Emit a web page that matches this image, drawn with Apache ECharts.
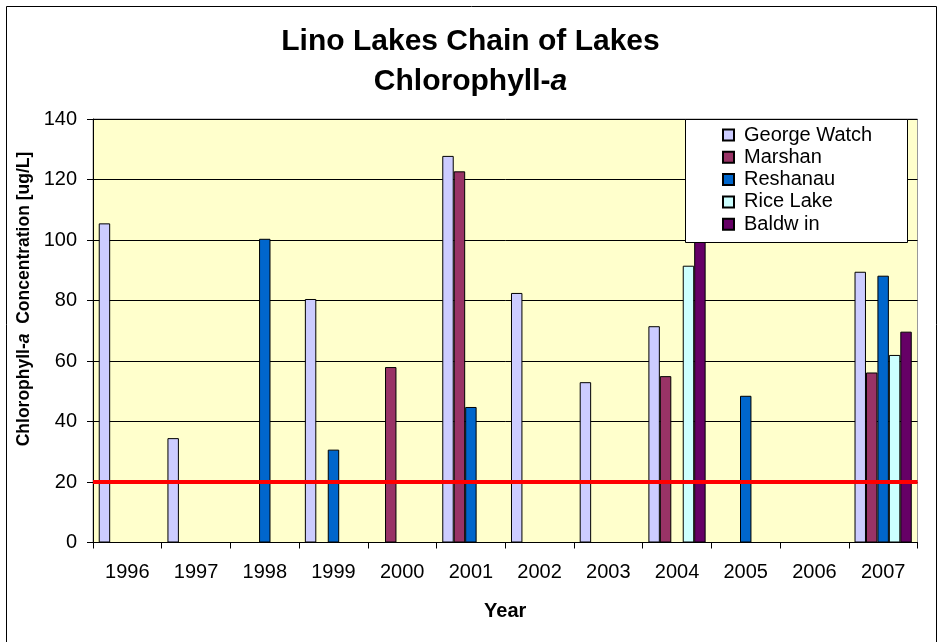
<!DOCTYPE html>
<html>
<head>
<meta charset="utf-8">
<script src="https://cdn.jsdelivr.net/npm/echarts@6/dist/echarts.min.js"></script>
<style>
    html, body { margin: 0; padding: 0; background: #fff; }
    #chart { width: 941px; height: 642px; }
</style>
</head>
<body>
<div id="chart"></div>
<script>
// 年份
let years = ['1996', '1997', '1998', '1999', '2000', '2001', '2002', '2003', '2004', '2005', '2006', '2007'];
// 各湖叶绿素a浓度 (ug/L)，null = 无数据
let georgeWatch = [105.5, 34.5, null, 80.5, null, 127.8, 82.5, 53, 71.5, null, null, 89.5];
let marshan = [null, null, null, null, 58, 122.7, null, null, 55, null, null, 56.2];
let reshanau = [null, null, 100.4, 30.7, null, 44.8, null, null, null, 48.5, null, 88.2];
let riceLake = [null, null, null, null, null, null, null, null, 91.5, null, null, 62];
let baldwin = [null, null, null, null, null, null, null, null, 102, null, null, 69.7];
// 标准线
let standard = 20;
// 纵轴刻度
let yMin = 0, yMax = 140, yStep = 20;

let seriesNames = ['George Watch', 'Marshan', 'Reshanau', 'Rice Lake', 'Baldw in'];
let seriesColors = ['#CCCCFF', '#993366', '#0066CC', '#CCFFFF', '#660066'];
let seriesData = [georgeWatch, marshan, reshanau, riceLake, baldwin];

let font = 'Arial, "Liberation Sans", sans-serif';

let series = [];
for (let i = 0; i < seriesNames.length; i++) {
    series.push({
        name: seriesNames[i],
        type: 'bar',
        data: seriesData[i],
        barGap: '0%',
        barCategoryGap: '16.7%',
        itemStyle: {
            color: seriesColors[i],
            borderColor: '#000',
            borderWidth: 1
        }
    });
}
// 红色标准线
series.push({
    name: 'standard',
    type: 'line',
    data: [],
    z: 5,
    markLine: {
        silent: true,
        symbol: 'none',
        label: { show: false },
        lineStyle: { color: '#FF0000', width: 4, type: 'solid' },
        data: [{ yAxis: standard }]
    }
});

let option = {
    backgroundColor: '#fff',
    animation: false,
    textStyle: { fontFamily: font },
    title: {
        left: 'center',
        top: 17,
        text: '{t|Lino Lakes Chain of Lakes}\n{t|Chlorophyll-}{i|a}',
        textStyle: {
            rich: {
                t: { fontFamily: font, fontSize: 30, fontWeight: 'bold', color: '#000', lineHeight: 40 },
                i: { fontFamily: font, fontSize: 30, fontWeight: 'bold', fontStyle: 'italic', color: '#000', lineHeight: 40 }
            }
        }
    },
    grid: {
        left: 93,
        right: 23.5,
        top: 119,
        bottom: 99.5,
        show: true,
        backgroundColor: '#FFFFCC',
        borderColor: '#999',
        borderWidth: 1
    },
    legend: {
        data: seriesNames,
        orient: 'vertical',
        left: 722,
        top: 125,
        padding: 0,
        itemGap: 2.3,
        itemWidth: 11,
        itemHeight: 11,
        icon: 'rect',
        z: 20,
        textStyle: {
            fontFamily: font,
            fontSize: 20,
            lineHeight: 20,
            color: '#000',
            padding: [0, 0, 0, 5]
        }
    },
    xAxis: {
        type: 'category',
        data: years,
        name: 'Year',
        nameLocation: 'middle',
        nameGap: 59,
        nameTextStyle: { fontFamily: font, fontSize: 20, fontWeight: 'bold', color: '#000' },
        axisLine: { lineStyle: { color: '#000', width: 1 } },
        axisTick: { show: true, length: 6, lineStyle: { color: '#000' } },
        axisLabel: { fontFamily: font, fontSize: 20, color: '#000', margin: 20 },
        splitLine: { show: false }
    },
    yAxis: {
        type: 'value',
        min: yMin,
        max: yMax,
        interval: yStep,
        axisLine: { show: true, lineStyle: { color: '#000', width: 1 } },
        axisTick: { show: true, length: 6, lineStyle: { color: '#000' } },
        axisLabel: { fontFamily: font, fontSize: 20, color: '#000', margin: 16 },
        splitLine: { show: true, lineStyle: { color: '#000', width: 1 } }
    },
    graphic: [
        {
            // 外框
            type: 'rect',
            z: 0,
            silent: true,
            shape: { x: 6.5, y: 6.5, width: 930, height: 640 },
            style: { fill: 'none', stroke: '#000', lineWidth: 1 }
        },
        {
            // 图例框
            type: 'rect',
            z: 10,
            silent: true,
            shape: { x: 685.5, y: 119.5, width: 222, height: 123 },
            style: { fill: '#fff', stroke: '#000', lineWidth: 1 }
        },
        {
            // 纵轴标题
            type: 'text',
            z: 10,
            silent: true,
            x: 24,
            y: 299,
            rotation: Math.PI / 2,
            style: {
                text: '{b|Chlorophyll-}{i|a}{b|  Concentration [ug/L]}',
                align: 'center',
                verticalAlign: 'middle',
                rich: {
                    b: { fontFamily: font, fontSize: 17.5, fontWeight: 'bold', fill: '#000' },
                    i: { fontFamily: font, fontSize: 17.5, fontWeight: 'bold', fontStyle: 'italic', fill: '#000' }
                }
            }
        }
    ],
    series: series
};

let myChart = echarts.init(document.getElementById('chart'), null, { renderer: 'canvas' });
myChart.setOption(option);
</script>
</body>
</html>
